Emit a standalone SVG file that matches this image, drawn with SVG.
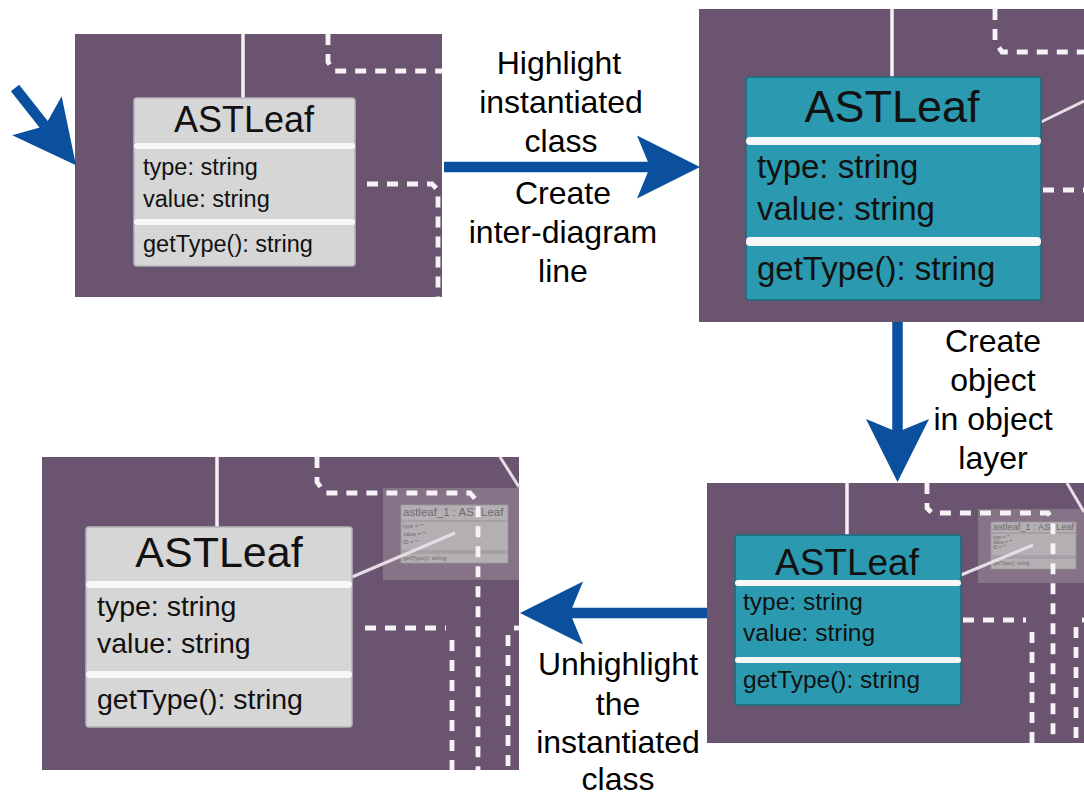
<svg xmlns="http://www.w3.org/2000/svg" width="1084" height="798" viewBox="0 0 1084 798">
<style>
.bg{fill:#6b5470}
.grey{fill:#d6d6d6;stroke:#b5b5b5;stroke-width:1.5}
.teal{fill:#2b9ab0;stroke:#1c6a7c;stroke-width:1.5}
.sep{fill:#f7f7f7}
.solid{stroke:#f6f2f6;stroke-width:3.5;fill:none}
.thin{stroke:#e4dde4;stroke-width:3;fill:none}
.dash{stroke:#f6f2f6;stroke-width:4.8;fill:none;stroke-dasharray:11 9}
.t{font-family:"Liberation Sans",Arial,sans-serif;fill:#111}
.lbl{font-family:"Liberation Sans",Arial,sans-serif;font-size:32px;fill:#000;text-anchor:middle}
.mid{text-anchor:middle}
.objo{fill:#8d7b8f;fill-opacity:0.8}
.obji{fill:#b3afb3;stroke:#9c989c;stroke-width:0.8}
.ot{font-family:"Liberation Sans",Arial,sans-serif;fill:#6e6a6e}
.ol{stroke:#8f8b8f;stroke-width:0.8}
.arrow{stroke:#0b4f9f;stroke-width:10.5;fill:none}
</style>
<defs>
<marker id="head" viewBox="0 -32 64 64" refX="14" refY="0" markerWidth="64" markerHeight="64" markerUnits="userSpaceOnUse" orient="auto">
<path d="M64,0 L1,-31.5 L14,0 L1,31.5 Z" fill="#0b4f9f"/>
</marker>
</defs>

<g id="panel-class-initial">
<rect class="bg" x="75" y="34" width="367" height="263"/>
<line class="solid" x1="243" y1="34" x2="243" y2="98"/>
<path class="dash" d="M328,34 V62 L334,71 H442"/>
<path class="dash" d="M367,184 H432 L438,190 V297"/>
<rect class="grey" x="134" y="98" width="221" height="168" rx="3"/>
<rect class="sep" x="134" y="143" width="221" height="6" rx="3"/>
<rect class="sep" x="134" y="219" width="221" height="6" rx="3"/>
<text class="t mid" x="244" y="132" font-size="36">ASTLeaf</text>
<text class="t" x="143" y="175" font-size="23.5">type: string</text>
<text class="t" x="143" y="207" font-size="23.5">value: string</text>
<text class="t" x="143" y="252" font-size="23.5">getType(): string</text>
</g>

<g id="panel-class-highlighted">
<rect class="bg" x="699" y="9" width="385" height="313"/>
<line class="solid" x1="892" y1="9" x2="892" y2="78"/>
<path class="dash" d="M995,9 V42 L1002,52 H1084"/>
<path class="dash" d="M1043,190 H1084"/>
<line class="thin" x1="1041" y1="122" x2="1084" y2="101"/>
<rect class="teal" x="746" y="77" width="295" height="223" rx="3"/>
<rect class="sep" x="746" y="137" width="295" height="8" rx="4"/>
<rect class="sep" x="746" y="237" width="295" height="9" rx="4"/>
<text class="t mid" x="892" y="122" font-size="45">ASTLeaf</text>
<text class="t" x="757" y="178" font-size="33">type: string</text>
<text class="t" x="757" y="220" font-size="33">value: string</text>
<text class="t" x="757" y="280" font-size="33">getType(): string</text>
</g>

<g id="panel-object-created">
<rect class="bg" x="707" y="483" width="377" height="260"/>
<line class="solid" x1="847" y1="483" x2="847" y2="535"/>
<rect class="objo" x="978" y="509" width="106" height="74"/>
<rect class="obji" x="991" y="522" width="85" height="47"/>
<text class="ot" x="993" y="530" font-size="9.3">astleaf_1 : ASTLeaf</text>
<line class="ol" x1="991" y1="533" x2="1076" y2="533"/>
<text class="ot" x="993" y="539" font-size="4.5">type = ""</text>
<text class="ot" x="993" y="544" font-size="4.5">value = ""</text>
<text class="ot" x="993" y="549" font-size="4.5">ID = ""</text>
<line class="ol" x1="991" y1="556" x2="1076" y2="556"/>
<line class="ol" x1="991" y1="558" x2="1076" y2="558"/>
<text class="ot" x="993" y="565" font-size="5">getType(): string</text>
<path class="dash" d="M927,483 V508 L932,513 H1048 L1053,520 V743"/>
<path class="dash" d="M963,620 H1026"/>
<path class="dash" d="M1032,632 V743"/>
<path class="dash" d="M1076,627 V743"/>
<path class="dash" d="M1082,620 H1084"/>
<line class="thin" x1="961" y1="575" x2="1033" y2="545"/>
<line class="thin" x1="1067" y1="483" x2="1084" y2="512"/>
<rect class="teal" x="735" y="535" width="226" height="170" rx="3"/>
<rect class="sep" x="735" y="580" width="226" height="6" rx="3"/>
<rect class="sep" x="735" y="657" width="226" height="6" rx="3"/>
<text class="t mid" x="847" y="575" font-size="37">ASTLeaf</text>
<text class="t" x="743" y="610" font-size="24.5">type: string</text>
<text class="t" x="743" y="641" font-size="24.5">value: string</text>
<text class="t" x="743" y="688" font-size="24.5">getType(): string</text>
</g>

<g id="panel-class-unhighlighted">
<rect class="bg" x="42" y="457" width="477" height="313"/>
<line class="solid" x1="217" y1="457" x2="217" y2="527"/>
<rect class="objo" x="383" y="488" width="136" height="92"/>
<rect class="obji" x="401" y="505" width="107" height="58"/>
<text class="ot" x="403" y="516" font-size="11.5">astleaf_1 : ASTLeaf</text>
<line class="ol" x1="401" y1="521" x2="508" y2="521"/>
<text class="ot" x="403" y="528" font-size="5.5">type = ""</text>
<text class="ot" x="403" y="536" font-size="5.5">value = ""</text>
<text class="ot" x="403" y="544" font-size="5.5">ID = ""</text>
<line class="ol" x1="401" y1="551" x2="508" y2="551"/>
<line class="ol" x1="401" y1="553" x2="508" y2="553"/>
<text class="ot" x="403" y="560" font-size="6">getType(): string</text>
<path class="dash" d="M317,457 V482 L325,493 H470 L478,502 V770"/>
<path class="dash" d="M365,628 H446"/>
<path class="dash" d="M452,640 V770"/>
<path class="dash" d="M508,635 V770"/>
<path class="dash" d="M514,628 H519"/>
<line class="thin" x1="352" y1="577" x2="455" y2="533"/>
<line class="thin" x1="500" y1="457" x2="519" y2="487"/>
<rect class="grey" x="86" y="527" width="266" height="200" rx="3"/>
<rect class="sep" x="86" y="581" width="266" height="7" rx="3.5"/>
<rect class="sep" x="86" y="671" width="266" height="7" rx="3.5"/>
<text class="t mid" x="219" y="567" font-size="43">ASTLeaf</text>
<text class="t" x="97" y="616" font-size="28.5">type: string</text>
<text class="t" x="97" y="653" font-size="28.5">value: string</text>
<text class="t" x="97" y="709" font-size="28.5">getType(): string</text>
</g>

<g id="connectors">
<line class="arrow" x1="15" y1="88" x2="45" y2="126" marker-end="url(#head)"/>
<line class="arrow" x1="444" y1="167" x2="650" y2="167" marker-end="url(#head)"/>
<line class="arrow" x1="897.5" y1="322" x2="897.5" y2="432" marker-end="url(#head)"/>
<line class="arrow" x1="707" y1="613" x2="570" y2="613" marker-end="url(#head)"/>
</g>

<g id="labels">
<text class="lbl" x="559" y="74">Highlight</text>
<text class="lbl" x="561" y="113">instantiated</text>
<text class="lbl" x="561" y="152">class</text>
<text class="lbl" x="563" y="204">Create</text>
<text class="lbl" x="563" y="243">inter-diagram</text>
<text class="lbl" x="563" y="282">line</text>
<text class="lbl" x="993" y="352">Create</text>
<text class="lbl" x="993" y="391">object</text>
<text class="lbl" x="993" y="430">in object</text>
<text class="lbl" x="993" y="469">layer</text>
<text class="lbl" x="618" y="675">Unhighlight</text>
<text class="lbl" x="618" y="715">the</text>
<text class="lbl" x="618" y="753">instantiated</text>
<text class="lbl" x="618" y="790">class</text>
</g>
</svg>
